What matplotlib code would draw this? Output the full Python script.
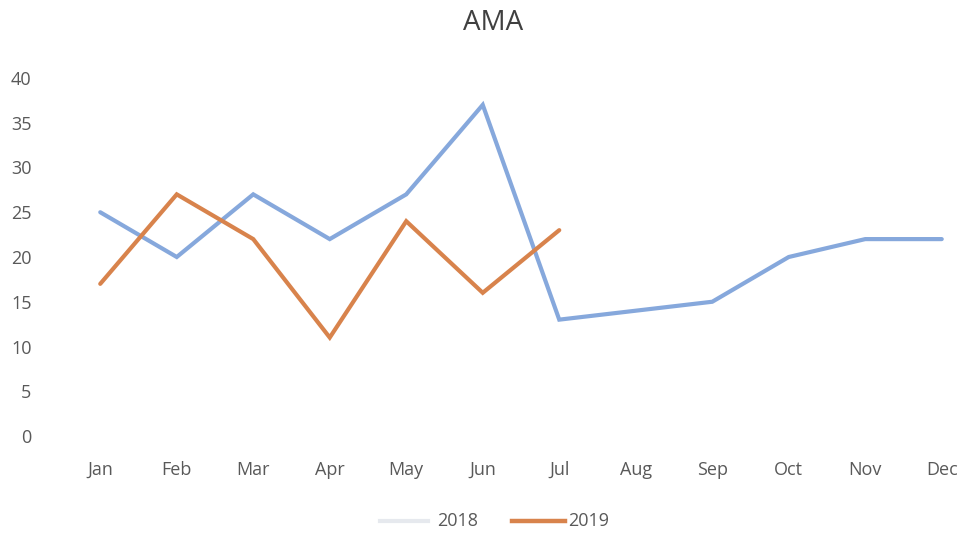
import matplotlib.pyplot as plt

months = ["Jan", "Feb", "Mar", "Apr", "May", "Jun",
          "Jul", "Aug", "Sep", "Oct", "Nov", "Dec"]
ama_2018 = [25, 20, 27, 22, 27, 37, 13, 14, 15, 20, 22, 22]
ama_2019 = [17, 27, 22, 11, 24, 16, 23]
y_ticks = [0, 5, 10, 15, 20, 25, 30, 35, 40]

plt.rcParams['font.family'] = ['Open Sans', 'DejaVu Sans']
text_col = "#595959"

fig = plt.figure(figsize=(9.8, 5.4), dpi=100)
ax = fig.add_axes([62 / 980, 1 - 436 / 540, 918 / 980, 358 / 540])

ax.plot(range(len(ama_2018)), ama_2018, color="#86a8dc", lw=3.0,
        solid_capstyle="round", solid_joinstyle="miter")
ax.plot(range(len(ama_2019)), ama_2019, color="#d8834c", lw=3.0,
        solid_capstyle="round", solid_joinstyle="miter")

ax.set_xlim(-0.5, 11.5)
ax.set_ylim(0, 40)
ax.set_xticks(range(len(months)))
ax.set_xticklabels(months)
ax.set_yticks(y_ticks)
ax.tick_params(length=0, colors=text_col, labelsize=13)
ax.tick_params(axis="x", pad=18)
ax.tick_params(axis="y", pad=22)
for s in ax.spines.values():
    s.set_visible(False)

fig.text(0.503, 0.957, "AMA", ha="center", va="center",
         fontsize=20, color="#404040")

# legend drawn by hand: the 2018 key is a faint line
fig.add_artist(plt.Line2D([380 / 980, 428 / 980], [1 - 521 / 540] * 2,
                          color="#e6e9ee", lw=3, transform=fig.transFigure))
fig.text(437 / 980, 1 - 521 / 540, "2018", ha="left", va="center",
         fontsize=13, color=text_col)
fig.add_artist(plt.Line2D([512 / 980, 565 / 980], [1 - 521 / 540] * 2,
                          color="#d8834c", lw=3.2, transform=fig.transFigure))
fig.text(568 / 980, 1 - 521 / 540, "2019", ha="left", va="center",
         fontsize=13, color=text_col)

fig.savefig("out.png", dpi=100)
